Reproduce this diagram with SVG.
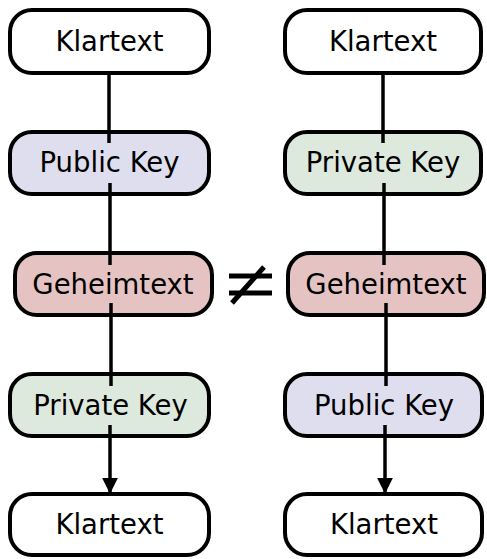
<svg xmlns="http://www.w3.org/2000/svg" width="487" height="559" viewBox="0 0 487 559">
  <style>
    .box { stroke: #000; stroke-width: 4; }
    .plain { fill: #ffffff; }
    .pub { fill: #dedeee; }
    .priv { fill: #dee9de; }
    .cipher { fill: #e6c3c3; }
    .label { font-family: "DejaVu Sans", sans-serif; font-size: 27.5px; fill: #000; text-anchor: middle; }
    .link { stroke: #000; stroke-width: 3.5; fill: none; }
    .neq { stroke: #000; stroke-width: 5; fill: none; }
  </style>
  <defs>
    <marker id="arrow" markerWidth="4.6" markerHeight="4.6" refX="4.4" refY="2.3" orient="auto" markerUnits="strokeWidth">
      <path d="M0,0 L4.6,2.3 L0,4.6 Z" fill="#000"/>
    </marker>
  </defs>

  <g id="left-plain-top">
    <rect class="box plain" x="10" y="10" width="199" height="63" rx="22"/>
    <text class="label" x="109.5" y="51">Klartext</text>
  </g>
  <g id="left-public-key">
    <rect class="box pub" x="10" y="132" width="199" height="62" rx="22"/>
    <text class="label" x="109.5" y="172">Public Key</text>
  </g>
  <g id="left-cipher">
    <rect class="box cipher" x="15" y="253" width="197" height="62" rx="22"/>
    <text class="label" x="113" y="294">Geheimtext</text>
  </g>
  <g id="left-private-key">
    <rect class="box priv" x="10" y="374" width="199" height="62" rx="22"/>
    <text class="label" x="110.5" y="415">Private Key</text>
  </g>
  <g id="left-plain-bottom">
    <rect class="box plain" x="10" y="494" width="199" height="61" rx="22"/>
    <text class="label" x="109.5" y="534">Klartext</text>
  </g>

  <g id="right-plain-top">
    <rect class="box plain" x="285" y="10" width="196" height="63" rx="22"/>
    <text class="label" x="383" y="51">Klartext</text>
  </g>
  <g id="right-private-key">
    <rect class="box priv" x="285" y="132" width="196" height="62" rx="22"/>
    <text class="label" x="383" y="172">Private Key</text>
  </g>
  <g id="right-cipher">
    <rect class="box cipher" x="288" y="253" width="196" height="62" rx="22"/>
    <text class="label" x="386" y="294">Geheimtext</text>
  </g>
  <g id="right-public-key">
    <rect class="box pub" x="285" y="374" width="197" height="62" rx="22"/>
    <text class="label" x="384" y="415">Public Key</text>
  </g>
  <g id="right-plain-bottom">
    <rect class="box plain" x="285" y="494" width="197" height="61" rx="22"/>
    <text class="label" x="384" y="534">Klartext</text>
  </g>

  <!-- links run a little way into each box, drawn on top of the nodes -->
  <g id="connectors">
    <line class="link" x1="109" y1="74" x2="109" y2="143"/>
    <line class="link" x1="110" y1="183" x2="110" y2="265"/>
    <line class="link" x1="111" y1="303" x2="111" y2="386"/>
    <line class="link" x1="110" y1="425" x2="110" y2="493" marker-end="url(#arrow)"/>
    <line class="link" x1="383" y1="74" x2="383" y2="143"/>
    <line class="link" x1="384" y1="183" x2="384" y2="265"/>
    <line class="link" x1="386" y1="303" x2="386" y2="386"/>
    <line class="link" x1="385" y1="425" x2="385" y2="493" marker-end="url(#arrow)"/>
  </g>

  <g id="not-equal">
    <line class="neq" x1="229" y1="276" x2="272" y2="276"/>
    <line class="neq" x1="229" y1="293" x2="272" y2="293"/>
    <line class="neq" x1="232" y1="303" x2="264" y2="267"/>
  </g>
</svg>
